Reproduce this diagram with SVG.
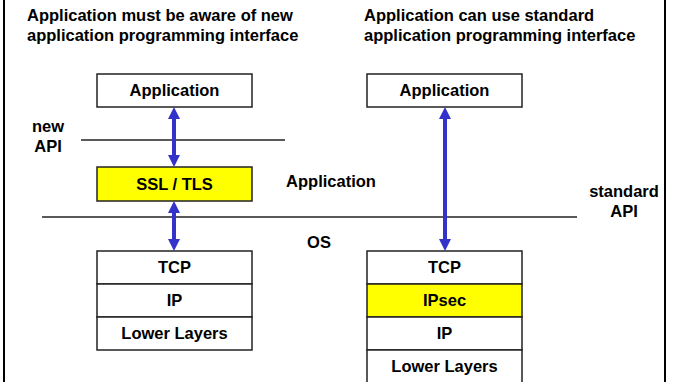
<svg xmlns="http://www.w3.org/2000/svg" width="673" height="382" viewBox="0 0 673 382">
<defs>
<style>
text{font-family:"Liberation Sans",Arial,sans-serif;font-weight:bold;font-size:16.5px;fill:#000}
.c{text-anchor:middle}
.box{fill:#fff;stroke:#222;stroke-width:1.5}
.hl{fill:#ffff00;stroke:#222;stroke-width:1.5}
.rule{stroke:#222;stroke-width:1.5}
.border{stroke:#000;stroke-width:2}
.arr{stroke:#3333cc;stroke-width:4;marker-start:url(#ah);marker-end:url(#ah)}
</style>
<marker id="ah" viewBox="0 0 12 12" markerWidth="12" markerHeight="12" refX="1" refY="6" markerUnits="userSpaceOnUse" orient="auto-start-reverse">
<path d="M0,0 L12,6 L0,12 z" fill="#3333cc"/>
</marker>
</defs>
<rect width="673" height="382" fill="#fff"/>
<line class="border" x1="4" y1="0" x2="4" y2="382"/>
<line class="border" x1="665" y1="0" x2="665" y2="382"/>

<g id="titles">
<text x="27" y="21">Application must be aware of new</text>
<text x="27" y="41">application programming interface</text>
<text x="364" y="21">Application can use standard</text>
<text x="364" y="41">application programming interface</text>
</g>

<g id="rules">
<line class="rule" x1="81" y1="140" x2="285" y2="140"/>
<line class="rule" x1="42" y1="217" x2="577" y2="217"/>
</g>

<g id="labels">
<text class="c" x="48" y="132">new</text>
<text class="c" x="48" y="152">API</text>
<text class="c" x="331" y="187">Application</text>
<text class="c" x="319" y="248">OS</text>
<text class="c" x="624" y="197">standard</text>
<text class="c" x="624" y="217">API</text>
</g>

<g id="left-app"><rect class="box" x="97" y="74" width="155" height="33"/><text class="c" x="174.5" y="96">Application</text></g>
<g id="left-ssl"><rect class="hl" x="97" y="167" width="155" height="34"/><text class="c" x="174.5" y="190">SSL / TLS</text></g>
<g id="left-tcp"><rect class="box" x="97" y="251" width="155" height="33"/><text class="c" x="174.5" y="273">TCP</text></g>
<g id="left-ip"><rect class="box" x="97" y="284" width="155" height="33"/><text class="c" x="174.5" y="306">IP</text></g>
<g id="left-lower"><rect class="box" x="97" y="317" width="155" height="33"/><text class="c" x="174.5" y="339">Lower Layers</text></g>

<g id="right-app"><rect class="box" x="367" y="74" width="155" height="33"/><text class="c" x="444.5" y="96">Application</text></g>
<g id="right-tcp"><rect class="box" x="367" y="251" width="155" height="33"/><text class="c" x="444.5" y="273">TCP</text></g>
<g id="right-ipsec"><rect class="hl" x="367" y="284" width="155" height="33"/><text class="c" x="444.5" y="306">IPsec</text></g>
<g id="right-ip"><rect class="box" x="367" y="317" width="155" height="33"/><text class="c" x="444.5" y="339">IP</text></g>
<g id="right-lower"><rect class="box" x="367" y="350" width="155" height="34"/><text class="c" x="444.5" y="372">Lower Layers</text></g>

<g id="connectors">
<line class="arr" x1="174" y1="118" x2="174" y2="156"/>
<line class="arr" x1="174" y1="212" x2="174" y2="240"/>
<line class="arr" x1="445" y1="118" x2="445" y2="240"/>
</g>
</svg>
